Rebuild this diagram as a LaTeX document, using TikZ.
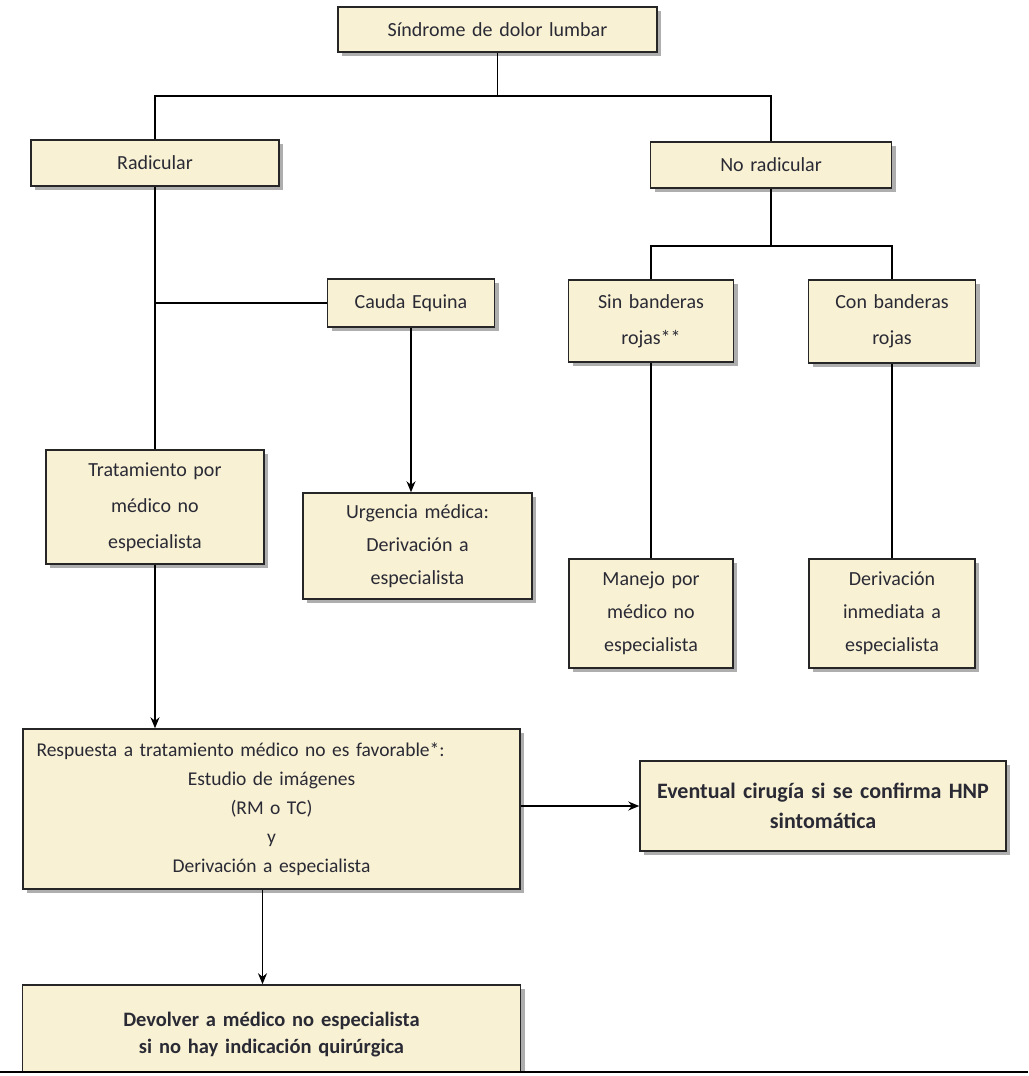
\documentclass[tikz,border=0pt]{standalone}
\usepackage{fontspec}
\setmainfont{Carlito}[WordSpace=0.75]
\usetikzlibrary{shadows,arrows.meta}
\definecolor{cream}{HTML}{F8F1D3}
\definecolor{txt}{HTML}{2A2A35}
\begin{document}
\begin{tikzpicture}[x=1pt,y=-1pt,
  box/.style={draw=black!85, line width=1.5pt, fill=cream, text=txt,
    drop shadow={shadow xshift=4pt, shadow yshift=-4pt, opacity=0.45, fill=black!70},
    inner sep=0pt, align=center},
  f36/.style={font=\fontsize{20}{36}\selectfont},
  f33/.style={font=\fontsize{20}{33}\selectfont},
  f29/.style={font=\fontsize{19.5}{29}\selectfont},
  conn/.style={draw=black, line width=1.3pt},
  arr/.style={conn, -{Stealth[length=11pt,width=9pt]}}]
\useasboundingbox (0,0) rectangle (1028,1076);
\clip (0,0) rectangle (1028,1076);

\node[box,f36, minimum width=319pt, minimum height=45pt, text width=300pt] (sdl) at (497.5,29.5) {Síndrome de dolor lumbar};
\node[box,f36, minimum width=248pt, minimum height=46pt, text width=230pt] (rad) at (155,163) {Radicular};
\node[box,f36, minimum width=241pt, minimum height=46pt, text width=220pt] (nrad) at (771,165) {No radicular};
\node[box,f36, minimum width=167pt, minimum height=48pt, text width=150pt] (cauda) at (411,303) {Cauda Equina};
\node[box,f36, minimum width=165pt, minimum height=82pt, text width=150pt] (sin) at (651,321) {Sin banderas\\rojas**};
\node[box,f36, minimum width=167pt, minimum height=83pt, text width=150pt] (con) at (892,321.5) {Con banderas\\rojas};
\node[box,f36, minimum width=218pt, minimum height=114pt, text width=200pt] (trat) at (155,507) {Tratamiento por\\médico no\\especialista};
\node[box,f33, minimum width=229pt, minimum height=106pt, text width=210pt] (urg) at (417.5,546) {Urgencia médica:\\Derivación a\\especialista};
\node[box,f33, minimum width=164pt, minimum height=109pt, text width=150pt] (man) at (651,613.5) {Manejo por\\médico no\\especialista};
\node[box,f33, minimum width=166pt, minimum height=109pt, text width=150pt] (der) at (892,613.5) {Derivación\\inmediata a\\especialista};
\node[box,f29, minimum width=497pt, minimum height=160pt, text width=470pt] (resp) at (271.5,809)
  {\makebox[470pt][l]{Respuesta a tratamiento médico no es favorable*:}\\Estudio de imágenes\\(RM o TC)\\y\\Derivación a especialista};
\node[box, font=\bfseries\fontsize{22}{30}\selectfont, minimum width=366pt, minimum height=90pt, text width=350pt] (ev) at (823,806) {Eventual cirugía si se confirma HNP\\sintomática};
\node[box, font=\bfseries\fontsize{20.5}{27}\selectfont, minimum width=498pt, minimum height=100pt, text width=470pt] (dev) at (271.5,1035) {Devolver a médico no especialista\\si no hay indicación quirúrgica};

\coordinate (j1) at (497.5,96);
\coordinate (j2) at (771,246);
\draw[conn] (sdl.south) -- (j1);
\draw[conn] (rad.north) |- (j1) -| (nrad.north);
\draw[conn] (rad.south) -- (trat.north);
\draw[conn] (rad.south |- cauda.west) -- (cauda.west);
\draw[arr] (cauda.south) -- (cauda.south |- urg.north);
\draw[conn] (nrad.south) -- (j2);
\draw[conn] (sin.north) |- (j2) -| (con.north);
\draw[conn] (sin.south) -- (man.north);
\draw[conn] (con.south) -- (der.north);
\draw[arr] (trat.south) -- (resp.north -| trat.south);
\draw[arr] (resp.east |- ev.west) -- (ev.west);
\draw[arr] ([xshift=-9pt]resp.south) -- ([xshift=-9pt]dev.north);

\coordinate (bl) at (0,1072);
\coordinate (br) at (1028,1072);
\fill[white] (0,1073) rectangle (1028,1076);
\draw[line width=1.5pt] (bl) -- (br);
\end{tikzpicture}
\end{document}
